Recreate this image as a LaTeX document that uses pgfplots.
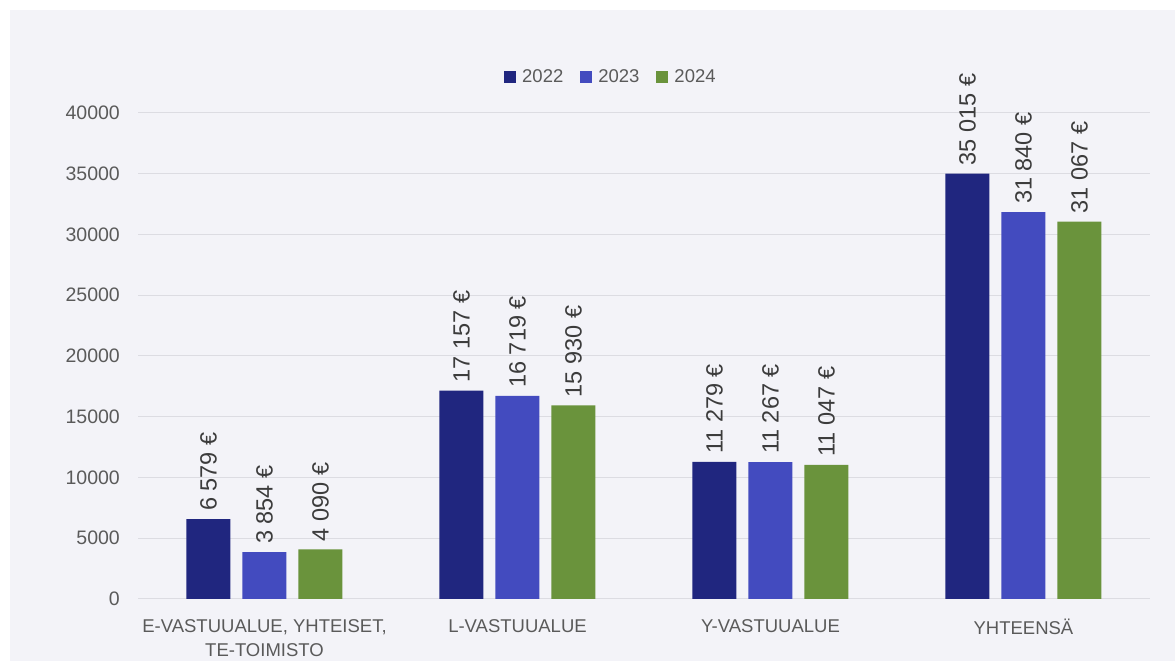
\documentclass[border=0pt]{standalone}
\usepackage{pgfplots}
\pgfplotsset{compat=1.18}
\usepackage{fontspec}
\setmainfont{Liberation Sans}

\definecolor{c22}{HTML}{20267F}
\definecolor{c23}{HTML}{434BBF}
\definecolor{c24}{HTML}{6A933C}
\definecolor{panel}{HTML}{F3F3F8}
\definecolor{gridc}{HTML}{DCDCE2}
\definecolor{tickc}{HTML}{5A5A5A}
\definecolor{labc}{HTML}{3C3C3C}

\begin{document}
\begin{tikzpicture}
\fill[white] (0,0) rectangle (1175pt,661pt);
\fill[panel] (10pt,0) rectangle (1175pt,651pt);
\useasboundingbox (0,0) rectangle (1175pt,661pt);
\begin{axis}[
    at={(138pt,62pt)}, anchor=south west,
    scale only axis, width=1012pt, height=486pt,
    ybar=12pt, bar width=44pt,
    xmin=-0.5, xmax=3.5, ymin=0, ymax=40000,
    axis line style={draw=none},
    major tick length=0pt,
    ymajorgrids, grid style={gridc, line width=1pt},
    ytick={0,5000,...,40000},
    scaled y ticks=false,
    xtick={0,1,2,3},
    xticklabels={{E-VASTUUALUE, YHTEISET,\\TE-TOIMISTO}, L-VASTUUALUE, Y-VASTUUALUE, YHTEENSÄ},
    /pgf/number format/1000 sep={},
    /pgf/number format/assume math mode=true,
    yticklabel style={font=\fontsize{19.5}{22}\selectfont, text=tickc, inner sep=0pt, anchor=east, xshift=-18pt},
    xticklabel style={font=\fontsize{18.5}{24}\selectfont, text=tickc, inner sep=0pt, anchor=north, yshift=-20pt, align=center},
    nodes near coords,
    point meta=explicit symbolic,
    every node near coord/.append style={rotate=90, anchor=west, inner xsep=8pt, inner ysep=0pt,
        font=\fontsize{23.5}{28}\selectfont, text=labc},
    legend style={at={(366/1012,1)}, anchor=west, yshift=36pt, draw=none, fill=none, inner sep=0pt,
        font=\fontsize{18.5}{21}\selectfont, text=tickc,
        nodes={inner sep=0pt},
        /tikz/every even column/.append style={column sep=17pt}},
    legend columns=3,
]
\addplot[fill=c22, draw=none, legend image code/.code={\fill[c22] (0pt,-6pt) rectangle (12pt,6pt); \path (18pt,0pt);}]
    coordinates {(0,6579)[6 579 €] (1,17157)[17 157 €] (2,11279)[11 279 €] (3,35015)[35 015 €]};
\addplot[fill=c23, draw=none, legend image code/.code={\fill[c23] (0pt,-6pt) rectangle (12pt,6pt); \path (18pt,0pt);}]
    coordinates {(0,3854)[3 854 €] (1,16719)[16 719 €] (2,11267)[11 267 €] (3,31840)[31 840 €]};
\addplot[fill=c24, draw=none, legend image code/.code={\fill[c24] (0pt,-6pt) rectangle (12pt,6pt); \path (18pt,0pt);}]
    coordinates {(0,4090)[4 090 €] (1,15930)[15 930 €] (2,11047)[11 047 €] (3,31067)[31 067 €]};
\legend{2022,2023,2024}
\end{axis}
\end{tikzpicture}
\end{document}
